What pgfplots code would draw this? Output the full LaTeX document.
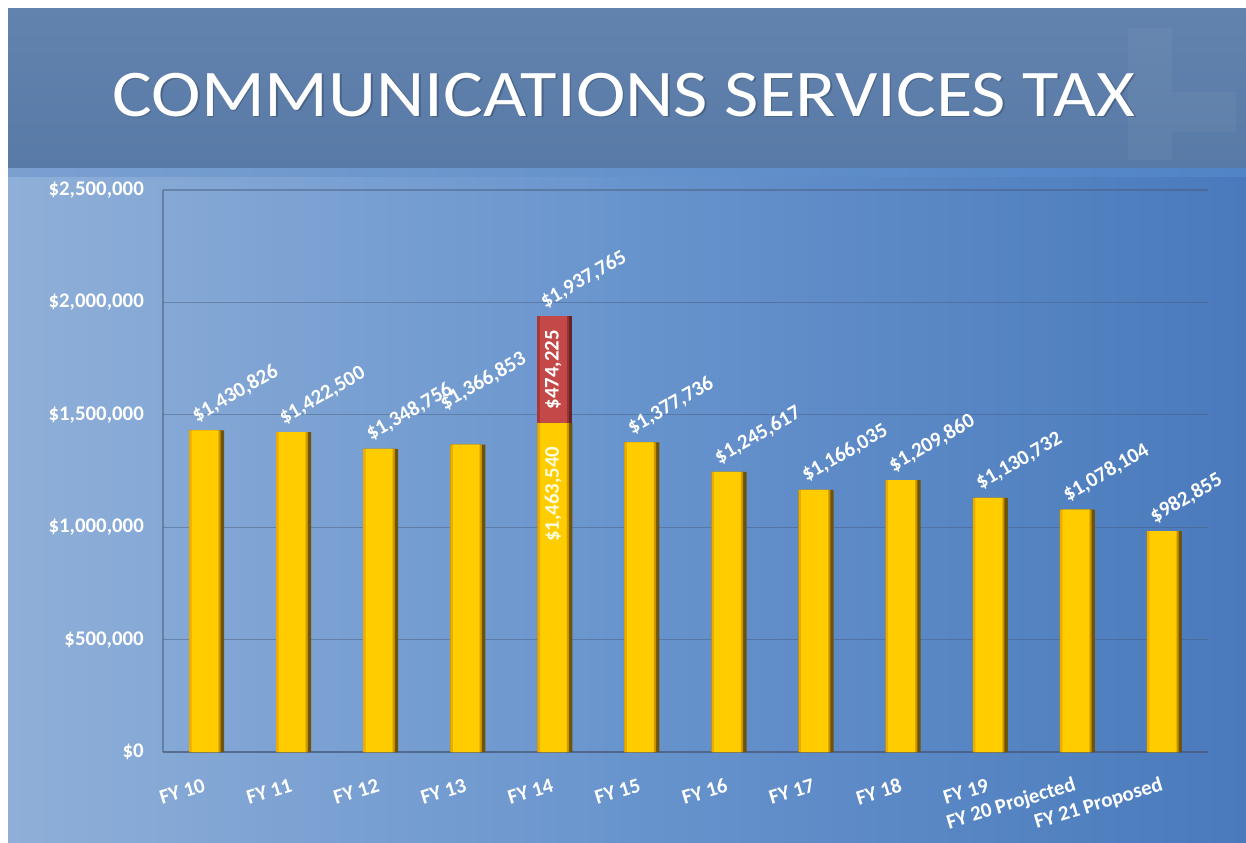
\documentclass[border=0pt]{standalone}
\usepackage{graphicx}
\usepackage{fontspec}
\setmainfont{Carlito}
\usepackage{pgfplots}
\usepackage{pgfplotstable}
\pgfplotsset{compat=1.18}

\definecolor{bgL}{RGB}{143,175,216}
\definecolor{bgM}{RGB}{104,148,205}
\definecolor{bgR}{RGB}{74,122,188}
\definecolor{bannerT}{RGB}{98,131,174}
\definecolor{bannerB}{RGB}{88,122,166}
\definecolor{stripL}{RGB}{122,160,208}
\definecolor{stripR}{RGB}{80,132,198}
\definecolor{gridc}{RGB}{70,88,120}
\definecolor{barY}{RGB}{255,204,0}
\definecolor{barYL}{RGB}{236,172,0}
\definecolor{barYM}{RGB}{196,148,0}
\definecolor{barYD}{RGB}{110,84,10}
\definecolor{barR}{RGB}{196,72,72}
\definecolor{barRL}{RGB}{170,55,55}
\definecolor{barRM}{RGB}{150,50,50}
\definecolor{barRD}{RGB}{100,36,36}

\newcommand{\lblfont}{\bfseries\fontsize{12.5}{14}\selectfont}

% communications services tax by fiscal year
\pgfplotstableread{
idx val
0 1430826
1 1422500
2 1348756
3 1366853
4 1463540
5 1377736
6 1245617
7 1166035
8 1209860
9 1130732
10 1078104
11 982855
}\taxdata
% FY 14 total incl. one-time amount of 474,225
\pgfplotstableread{
idx val
4 1937765
}\extradata

\begin{document}
\begin{tikzpicture}
% slide background, 1 px = 0.6 pt, y downwards
\begin{scope}[x=0.6pt,y=-0.6pt]
\fill[white] (0,0) rectangle (1246,842);
\shade[left color=bgL, right color=bgR, middle color=bgM] (8,176) rectangle (1246,842);
\shade[top color=bannerT, bottom color=bannerB] (8,8) rectangle (1246,168);
\fill[white, opacity=0.04] (1128,28) rectangle (1172,160);
\fill[white, opacity=0.04] (1172,92) rectangle (1236,132);
\shade[left color=stripL, right color=stripR] (8,168) rectangle (1246,176);
\node[text=black, opacity=0.2, font=\fontsize{40}{44}\selectfont] at (625.5,96.5) {\scalebox{1.12}[1]{COMMUNICATIONS SERVICES TAX}};
\node[text=white, font=\fontsize{40}{44}\selectfont] at (624,95) {\scalebox{1.12}[1]{COMMUNICATIONS SERVICES TAX}};
\end{scope}

\begin{axis}[
    at={(97.8pt,-451.2pt)}, anchor=south west,
    scale only axis,
    width=627pt, height=337.2pt,
    ybar,
    xmin=-0.5, xmax=11.5,
    ymin=0, ymax=2500000,
    enlargelimits=false,
    clip=false,
    scaled y ticks=false,
    xtick={0,1,2,3,4,5,6,7,8,9,10,11},
    xticklabels={FY 10,FY 11,FY 12,FY 13,FY 14,FY 15,FY 16,FY 17,FY 18,FY 19,FY 20 Projected,FY 21 Proposed},
    ytick={0,500000,1000000,1500000,2000000,2500000},
    yticklabels={{\$0},{\$500,000},{\$1,000,000},{\$1,500,000},{\$2,000,000},{\$2,500,000}},
    axis x line*=bottom, axis y line*=left,
    axis line style={draw=gridc, opacity=0.5, line width=0.8pt},
    major tick length=0pt,
    ymajorgrids,
    grid style={draw=gridc, opacity=0.45, line width=0.8pt},
    yticklabel style={font=\lblfont, text=white, xshift=-8pt},
    xticklabel style={font=\lblfont, text=white, yshift=-18.6pt, xshift=2pt, anchor=east, rotate=17},
]
% bars built from layers: dark edge, mid tone, left tone, face
\addplot[draw=none, fill=barRD, bar width=21pt, bar shift=0pt] table[x=idx, y=val] {\extradata};
\addplot[draw=none, fill=barRM, bar width=19pt, bar shift=-1pt] table[x=idx, y=val] {\extradata};
\addplot[draw=none, fill=barRL, bar width=18pt, bar shift=-1.5pt] table[x=idx, y=val] {\extradata};
\addplot[draw=none, fill=barR, bar width=16pt, bar shift=-1pt] table[x=idx, y=val] {\extradata};

\addplot[draw=none, fill=barYD, bar width=21pt, bar shift=0pt] table[x=idx, y=val] {\taxdata};
\addplot[draw=none, fill=barYM, bar width=19pt, bar shift=-1pt] table[x=idx, y=val] {\taxdata};
\addplot[draw=none, fill=barYL, bar width=18pt, bar shift=-1.5pt] table[x=idx, y=val] {\taxdata};
\addplot[draw=none, fill=barY, bar width=16pt, bar shift=-1pt] table[x=idx, y=val] {\taxdata};

% totals above the bars
\addplot[bar shift=0pt, draw=none, fill=none,
    nodes near coords, point meta=explicit symbolic,
    every node near coord/.append style={font=\lblfont, text=white, inner sep=0pt,
        xshift=-5pt, yshift=3pt, anchor=south west, rotate=30}] coordinates {
    (0,1430826) [\$1,430,826]
    (1,1422500) [\$1,422,500]
    (2,1348756) [\$1,348,756]
    (4,1937765) [\$1,937,765]
    (5,1377736) [\$1,377,736]
    (6,1245617) [\$1,245,617]
    (7,1166035) [\$1,166,035]
    (8,1209860) [\$1,209,860]
    (9,1130732) [\$1,130,732]
    (10,1078104) [\$1,078,104]
    (11,982855) [\$982,855]
};
% FY 13 label sits higher, clear of the FY 14 bar
\addplot[bar shift=0pt, draw=none, fill=none,
    nodes near coords, point meta=explicit symbolic,
    every node near coord/.append style={font=\lblfont, text=white, inner sep=0pt,
        xshift=-13pt, yshift=19pt, anchor=south west, rotate=30}] coordinates {
    (3,1366853) [\$1,366,853]
};
% values inside the FY 14 bar
\addplot[bar shift=0pt, draw=none, fill=none,
    nodes near coords, point meta=explicit symbolic,
    every node near coord/.append style={font=\lblfont, text=white!88!yellow, inner sep=0pt,
        yshift=-14pt, xshift=-1pt, anchor=east, rotate=90}] coordinates {
    (4,1463540) [\$1,463,540]
};
\addplot[bar shift=0pt, draw=none, fill=none,
    nodes near coords, point meta=explicit symbolic,
    every node near coord/.append style={font=\lblfont, text=white, inner sep=0pt,
        xshift=-1pt, anchor=center, rotate=90}] coordinates {
    (4,1700652) [\$474,225]
};
\end{axis}
\end{tikzpicture}
\end{document}
